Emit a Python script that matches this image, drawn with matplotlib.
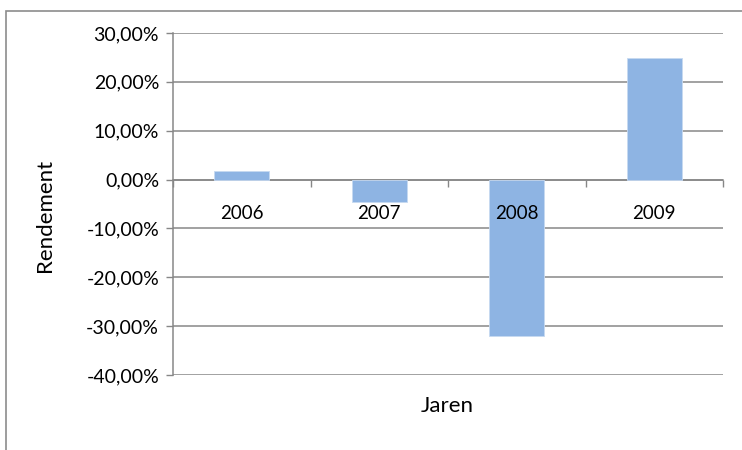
import matplotlib
matplotlib.use("Agg")
import matplotlib.pyplot as plt
from matplotlib.ticker import FuncFormatter, FixedLocator
from matplotlib.patches import Rectangle
import matplotlib.transforms as mtransforms

years = ["2006", "2007", "2008", "2009"]
returns = [0.018, -0.046, -0.320, 0.248]
y_ticks = [-0.4, -0.3, -0.2, -0.1, 0.0, 0.1, 0.2, 0.3]
x_label = "Jaren"
y_label = "Rendement"

plt.rcParams['font.family'] = ['Lato', 'DejaVu Sans']
W, H = 742, 450
fig = plt.figure(figsize=(W / 100, H / 100), dpi=100)
fig.patch.set_facecolor('white')

# outer chart border (only left and top visible)
fig.patches.append(Rectangle((6 / W, -0.1), 1.2, 1.1 - 11 / H,
                             transform=fig.transFigure, fill=False,
                             edgecolor='#8c8c8c', linewidth=1.2))

ax = fig.add_axes([173 / W, 1 - 375 / H, (723 - 173) / W, (375 - 33) / H])
ax.set_axisbelow(True)
grey = '#878787'

x = list(range(len(years)))
ax.bar(x, returns, width=0.4, color='#8EB4E3', edgecolor='#c6d9f1',
       linewidth=0.6, zorder=2)

ax.set_xlim(-0.5, len(years) - 0.5)
ax.set_ylim(min(y_ticks), max(y_ticks))
ax.set_yticks(y_ticks)
ax.yaxis.set_major_formatter(FuncFormatter(
    lambda v, p: ("%.2f%%" % (v * 100)).replace('.', ',').replace('-0,00', '0,00')))
ax.yaxis.grid(True, color=grey, linewidth=1.1)
ax.tick_params(axis='y', length=5, width=1, color=grey, labelsize=14,
               pad=5, labelcolor='black')

for s in ['top', 'right']:
    ax.spines[s].set_visible(False)
ax.spines['left'].set_color(grey)
ax.spines['left'].set_linewidth(1.1)
ax.spines['bottom'].set_position(('data', 0))
ax.spines['bottom'].set_color(grey)
ax.spines['bottom'].set_linewidth(1.1)
ax.spines['bottom'].set_zorder(1.5)

ax.xaxis.set_major_locator(FixedLocator([i - 0.5 for i in range(len(years) + 1)]))
ax.tick_params(axis='x', length=5, width=1, color=grey, labelbottom=False,
               direction='out')

off = mtransforms.offset_copy(ax.transData, fig=fig, x=0, y=-34, units='dots')
for xi, yr in zip(x, years):
    ax.text(xi, 0, yr, transform=off, ha='center', va='center',
            fontsize=13.5, color='black', zorder=5)

fig.text(447 / W, 1 - 406 / H, x_label, ha='center', va='center', fontsize=16)
fig.text(45 / W, 1 - 215 / H, y_label, ha='center', va='center', fontsize=16,
         rotation=90)

fig.savefig("out.png", dpi=100, facecolor='white')
